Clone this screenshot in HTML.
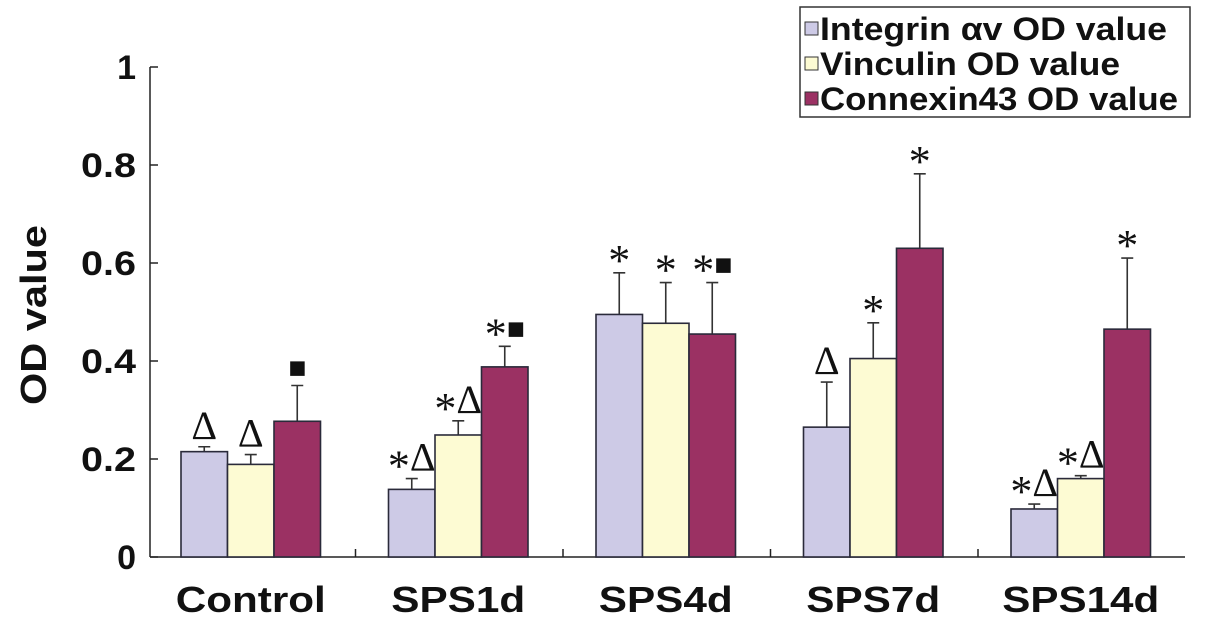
<!DOCTYPE html>
<html><head><meta charset="utf-8"><style>
html,body{margin:0;padding:0;background:#fff}
svg{display:block}
.b{font-family:"Liberation Sans",sans-serif;font-weight:bold}
.s{font-family:"Liberation Serif","DejaVu Serif",serif}
</style></head><body>
<svg id="c" width="1205" height="625" xmlns="http://www.w3.org/2000/svg"></svg>
<script>
const categories=["Control","SPS1d","SPS4d","SPS7d","SPS14d"];
const integrin=[0.215,0.138,0.495,0.265,0.098];
const integrinErr=[0.01,0.022,0.085,0.092,0.01];
const vinculin=[0.189,0.249,0.477,0.405,0.160];
const vinculinErr=[0.02,0.029,0.083,0.073,0.006];
const connexin=[0.277,0.388,0.455,0.630,0.465];
const connexinErr=[0.073,0.042,0.105,0.152,0.145];
const integrinMarks=["Δ","*Δ","*","Δ","*Δ"];
const vinculinMarks=["Δ","*Δ","*","*","*Δ"];
const connexinMarks=["■","*■","*■","*","*"];
const yTicks=[0,0.2,0.4,0.6,0.8,1];
const yTickLabels=["0","0.2","0.4","0.6","0.8","1"];
const seriesNames=["Integrin αv OD value","Vinculin OD value","Connexin43 OD value"];
const colors=["#cdcae6","#fdfbd3","#9b3163"];

const svg=document.getElementById('c');
const NS="http://www.w3.org/2000/svg";
function el(t,a,p){const e=document.createElementNS(NS,t);for(const k in a)e.setAttribute(k,a[k]);(p||svg).appendChild(e);return e;}
const y0=557,y1=67,axX=150;
function Y(v){return y0-(y0-y1)*v;}
const g0=181,gs=207.5,bw=46.5;
function X(gi,si){return g0+gs*gi+bw*si;}

yTicks.forEach((v,i)=>{
  const t=el('line',{x1:axX,x2:axX+8,y1:Y(v),y2:Y(v),stroke:'#222','stroke-width':1.5});
  
  
  const txt=yTickLabels[i];
  const a={x:136,y:Y(v)+12,'text-anchor':'end','font-size':34,class:'b',fill:'#111'};
  if(txt.length>1){a.textLength=55;a.lengthAdjust='spacingAndGlyphs';}
  const l=el('text',a);
  l.textContent=txt;
  
  
});
const ya=el('line',{x1:axX,x2:axX,y1:y1,y2:y0,stroke:'#222','stroke-width':1.5});


const xa=el('line',{x1:axX,x2:1185,y1:y0,y2:y0,stroke:'#222','stroke-width':1.5});


const yt=el('text',{x:0,y:0,transform:'translate(46,315) rotate(-90)','text-anchor':'middle','font-size':36,class:'b',fill:'#111',textLength:180,lengthAdjust:'spacingAndGlyphs'});
yt.textContent='OD value';



const series=[[integrin,integrinErr,integrinMarks],[vinculin,vinculinErr,vinculinMarks],[connexin,connexinErr,connexinMarks]];
categories.forEach((c,gi)=>{
  if(gi>0){const tk=el('line',{x1:X(gi,0)-33,x2:X(gi,0)-33,y1:y0,y2:y0-8,stroke:'#222','stroke-width':1.5});
    }
  series.forEach((s,si)=>{
    const v=s[0][gi],e=s[1][gi],x=X(gi,si),cx=x+bw/2,top=Y(v+e);
    const eb=el('path',{d:`M${cx} ${Y(v)}V${top}M${cx-6} ${top}H${cx+6}`,stroke:'#333','stroke-width':1.6,fill:'none'});
    
    
    const r=el('rect',{x:x,y:Y(v),width:bw,height:y0-Y(v),fill:colors[si],stroke:'#2a2a3a','stroke-width':1.6});
    
    
    const m=s[2][gi];
    const mk=el('text',{x:cx,y:top-8,'text-anchor':'middle','font-size':40,class:'s',fill:'#111'});
    m.split('').forEach(ch=>{
      const ts=el('tspan',{},mk);
      ts.textContent=ch;
      if(ch==='*'){ts.setAttribute('font-size','44');ts.setAttribute('dy','10');}
      else if(ch==='■'){ts.setAttribute('font-size','30');ts.setAttribute('dy',m.length>1?'-10':'0');}
      else if(m.length>1){ts.setAttribute('dy','-10');}
    });
    
    
  });
  const tl=c==='Control'?150:(c.length>5?157:134);
  const xl=el('text',{x:X(gi,1)+bw/2,y:612,'text-anchor':'middle','font-size':36,class:'b',fill:'#111',textLength:tl,lengthAdjust:'spacingAndGlyphs'});
  xl.textContent=c;
  
  
});

const lg=el('g',{});


const lb=el('rect',{x:800,y:7,width:390,height:110,fill:'#fff',stroke:'#333','stroke-width':1.5},lg);


const lw=[347,300,358];
seriesNames.forEach((n,i)=>{
  const yy=29+i*35;
  const sw=el('rect',{x:805,y:yy-7,width:13,height:13,fill:colors[i],stroke:'#333','stroke-width':1},lg);
  
  
  const t=el('text',{x:820,y:yy+11,'font-size':32,class:'b',fill:'#111',textLength:lw[i],lengthAdjust:'spacingAndGlyphs'},lg);
  t.textContent=n;
  
  
});
</script>
</body></html>
